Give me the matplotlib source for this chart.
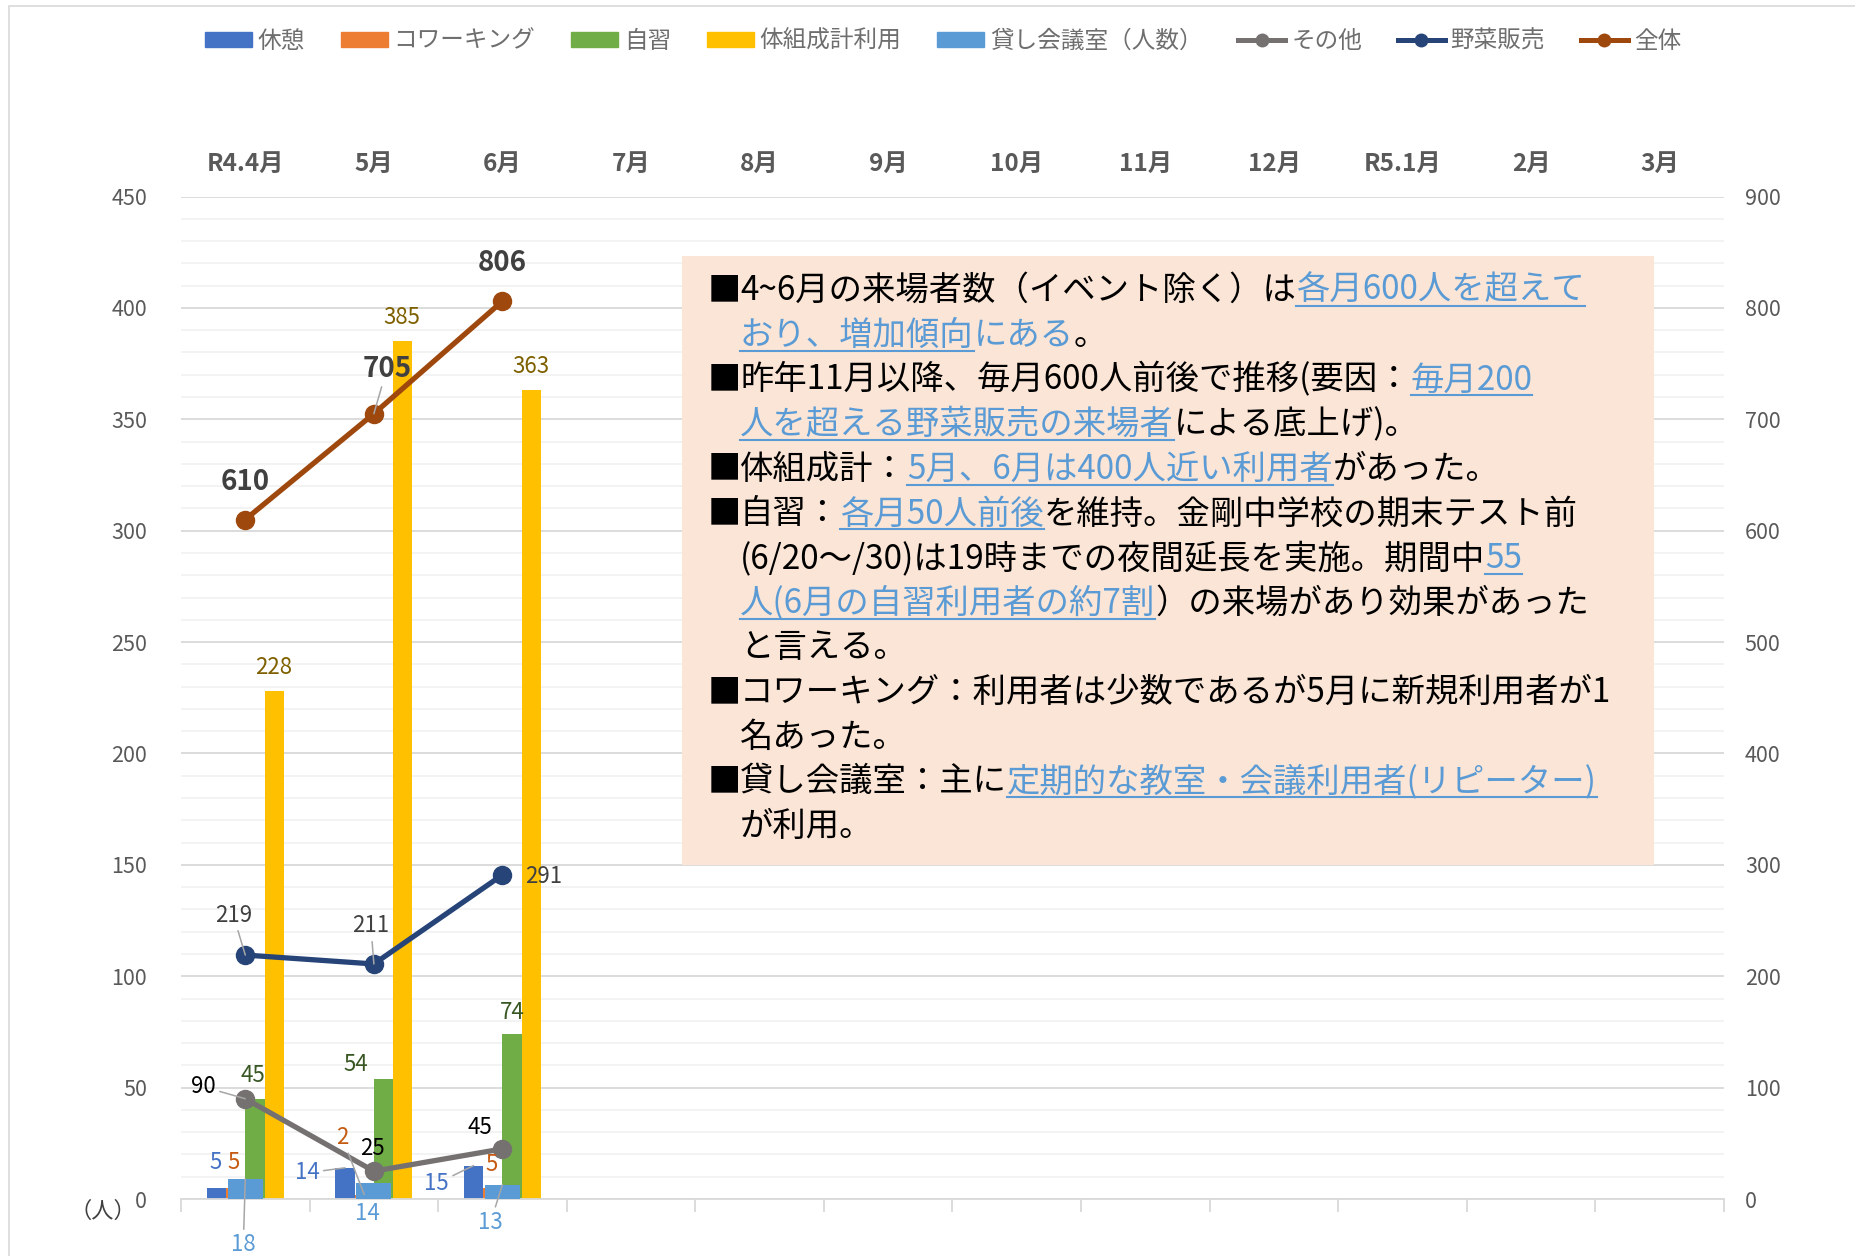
import matplotlib
matplotlib.use("Agg")
import matplotlib.pyplot as plt
from matplotlib.patches import Rectangle, Patch
from matplotlib.lines import Line2D
import numpy as np

plt.rcParams['font.family'] = ['Noto Sans CJK JP', 'DejaVu Sans']

# ---- data ----
months = ['R4.4月', '5月', '6月', '7月', '8月', '9月', '10月', '11月', '12月',
          'R5.1月', '2月', '3月']
kyukei = [5, 14, 15]          # 休憩
coworking = [5, 2, 5]         # コワーキング
jishu = [45, 54, 74]          # 自習
taiso = [228, 385, 363]       # 体組成計利用
kashi = [18, 14, 13]          # 貸し会議室（人数） (right axis)
sonota = [90, 25, 45]         # その他 (right axis)
yasai = [219, 211, 291]       # 野菜販売 (right axis)
zentai = [610, 705, 806]      # 全体 (right axis)

series_names = ['休憩', 'コワーキング', '自習', '体組成計利用', '貸し会議室（人数）',
                'その他', '野菜販売', '全体']
colors = ['#4472C4', '#ED7D31', '#70AD47', '#FFC000', '#5B9BD5',
          '#767171', '#264478', '#9E480E']

# text box contents: (text, style) 0 = black, 1 = blue, 2 = blue underlined
note_lines = [
    [("■4~6月の来場者数（イベント除く）は", 0), ("各月600人を超えて", 2)],
    [("おり、増加傾向", 2), ("にある", 1), ("。", 0)],
    [("■昨年11月以降、毎月600人前後で推移(要因：", 0), ("毎月200", 2)],
    [("人を超える野菜販売の来場者", 2), ("による底上げ)。", 0)],
    [("■体組成計：", 0), ("5月、6月は400人近い利用者", 2), ("があった。", 0)],
    [("■自習：", 0), ("各月50人前後", 2), ("を維持。金剛中学校の期末テスト前", 0)],
    [("(6/20～/30)は19時までの夜間延長を実施。期間中", 0), ("55", 2)],
    [("人(6月の自習利用者の約7割", 2), ("）の来場があり効果があった", 0)],
    [("と言える。", 0)],
    [("■コワーキング：利用者は少数であるが5月に新規利用者が1", 0)],
    [("名あった。", 0)],
    [("■貸し会議室：主に", 0), ("定期的な教室・会議利用者(リピーター)", 2)],
    [("が利用。", 0)],
]

W, H = 1856, 1256
fig = plt.figure(figsize=(W / 100, H / 100), dpi=100)
fig.patch.set_facecolor('white')

# axes box in pixels (top-left origin)
L, R, T, B = 181, 1724, 196.5, 1199
ax = fig.add_axes([L / W, 1 - B / H, (R - L) / W, (B - T) / H])
ax2 = ax.twinx()

x = np.arange(len(kyukei))
bw = 0.15
ax.bar(x - 1.5 * bw, kyukei, bw, color=colors[0], zorder=2)
ax.bar(x - 0.5 * bw, coworking, bw, color=colors[1], zorder=2)
ax.bar(x + 0.5 * bw, jishu, bw, color=colors[2], zorder=2)
ax.bar(x + 1.5 * bw, taiso, bw, color=colors[3], zorder=2)
ax2.bar(x, kashi, 0.272, color=colors[4], zorder=1)

for vals, c in [(sonota, colors[5]), (yasai, colors[6]), (zentai, colors[7])]:
    ax2.plot(x, vals, '-o', color=c, lw=3.8, ms=13, zorder=3)

ax.set_xlim(-0.5, 11.5)
ax.set_ylim(0, 450)
ax2.set_ylim(0, 900)

ax.set_axisbelow(True)
ax.set_yticks(np.arange(0, 451, 50))
ax.set_yticks(np.arange(0, 451, 10), minor=True)
ax.grid(which='major', axis='y', color='#d9d9d9', lw=1.3)
ax.grid(which='minor', axis='y', color='#f0f0f0', lw=1.1)
ax.tick_params(axis='y', which='both', length=0, labelsize=15.5,
               labelcolor='#595959', pad=24.5)
ax2.set_yticks(np.arange(0, 901, 100))
ax2.tick_params(axis='y', length=0, labelsize=15.5, labelcolor='#595959', pad=15)

ax.set_xticks(np.arange(13) - 0.5)
ax.set_xticklabels([])
ax.tick_params(axis='x', length=9, color='#d9d9d9', width=1.3)

sec = ax.secondary_xaxis('top')
sec.set_xticks(np.arange(12), months, fontweight='bold')
sec.tick_params(length=0, pad=15, labelsize=17.5, labelcolor='#595959')
sec.spines['top'].set_visible(False)

for a in (ax, ax2):
    for s in ('left', 'right', 'top'):
        a.spines[s].set_visible(False)
ax2.spines['bottom'].set_visible(False)
ax.spines['bottom'].set_color('#d9d9d9')
ax.spines['bottom'].set_linewidth(1.3)

# ---- data labels (offsets in pixels, y down) ----
def label(vals, dx_pos, offsets, color, leaders=(), right=False, size=16, weight='normal'):
    scale = 2 if right else 1
    for i, v in enumerate(vals):
        dx, dy = offsets[i]
        kw = {}
        if i in leaders:
            kw['arrowprops'] = dict(arrowstyle='-', color='#a6a6a6', lw=1.1,
                                    shrinkA=1, shrinkB=0)
        ax2.annotate(str(v), xy=(x[i] + dx_pos, v / scale), xycoords=ax.transData,
                     xytext=(dx * 0.72, -dy * 0.72), textcoords='offset points',
                     ha='center', va='center', fontsize=size, color=color,
                     fontweight=weight, annotation_clip=False, zorder=5, **kw)

label(zentai, 0, [(0, -38), (13, -45), (0, -38)], '#404040', leaders=(1,),
      right=True, size=20, weight='bold')
label(taiso, 1.5 * bw, [(-1, -24)] * 3, '#7F6000')
label(jishu, 0.5 * bw, [(-2, -23), (-28, -14), (0, -22)], '#385723')
label(kyukei, -1.5 * bw, [(-1, -25), (-38, 5), (-37, 18)], '#4472C4', leaders=(1, 2))
label(coworking, -0.5 * bw, [(-2, -25), (-22, -57), (-1, -23)], '#C55A11', leaders=(1,))
label(kashi, 0, [(-2, 66), (-6, 30), (-12, 38)], '#5B9BD5', leaders=(0, 2), right=True)
label(sonota, 0, [(-42, -12), (-1, -23), (-23, -21)], '#000000', leaders=(0,), right=True)
label(yasai, 0, [(-12, -40), (-3, -38), (41, 2)], '#404040', leaders=(0, 1), right=True)

fig.text(103 / W, 1 - 1211 / H, '（人）', fontsize=16, color='#404040',
         ha='center', va='center')

# ---- legend ----
handles = [Patch(color=c) for c in colors[:5]]
handles += [Line2D([], [], color=c, lw=3.6, marker='o', ms=9) for c in colors[5:]]
fig.legend(handles, series_names, loc='center', bbox_to_anchor=(0.508, 1 - 41 / H),
           ncol=8, frameon=False, fontsize=17, handlelength=2.0,
           handleheight=0.6, handletextpad=0.25, columnspacing=1.5,
           labelcolor='#6e6e6e')

# chart-area border (partly visible in the original)
fig.add_artist(Rectangle((9.5 / W, -0.1), 1.2, 1 - 6 / H + 0.1, transform=fig.transFigure,
                         fill=False, edgecolor='#d9d9d9', lw=1.2))

# ---- note box ----
bx0, by0, bx1, by1 = 682, 256, 1654, 865
fig.add_artist(Rectangle((bx0 / W, 1 - by1 / H), (bx1 - bx0) / W, (by1 - by0) / H,
                         transform=fig.transFigure, facecolor='#FBE5D6',
                         edgecolor='none', zorder=5))

renderer = fig.canvas.get_renderer()
fs = 24
blue = '#5B9BD5'
x_bullet, x_text = 708, 740
base0, step = 300, 44.67
for k, segs in enumerate(note_lines):
    base = base0 + k * step
    if segs[0][0].startswith('■'):
        fig.text(x_bullet / W, 1 - base / H, '■', fontsize=fs, color='black',
                 va='baseline', ha='left', zorder=6)
        segs = [(segs[0][0][1:], segs[0][1])] + segs[1:]
    prefix = ''
    for txt, style in segs:
        if prefix:
            tp = fig.text(0, 0, prefix, fontsize=fs)
            xpos = x_text + tp.get_window_extent(renderer).width
            tp.remove()
        else:
            xpos = x_text
        t = fig.text(xpos / W, 1 - base / H, txt, fontsize=fs,
                     color='black' if style == 0 else blue,
                     va='baseline', ha='left', zorder=6)
        if style == 2:
            wseg = t.get_window_extent(renderer).width
            fig.add_artist(Line2D([xpos / W, (xpos + wseg) / W],
                                  [1 - (base + 6) / H] * 2, color=blue, lw=1.5,
                                  transform=fig.transFigure, zorder=6))
        prefix += txt

fig.savefig('out.png', dpi=100)
